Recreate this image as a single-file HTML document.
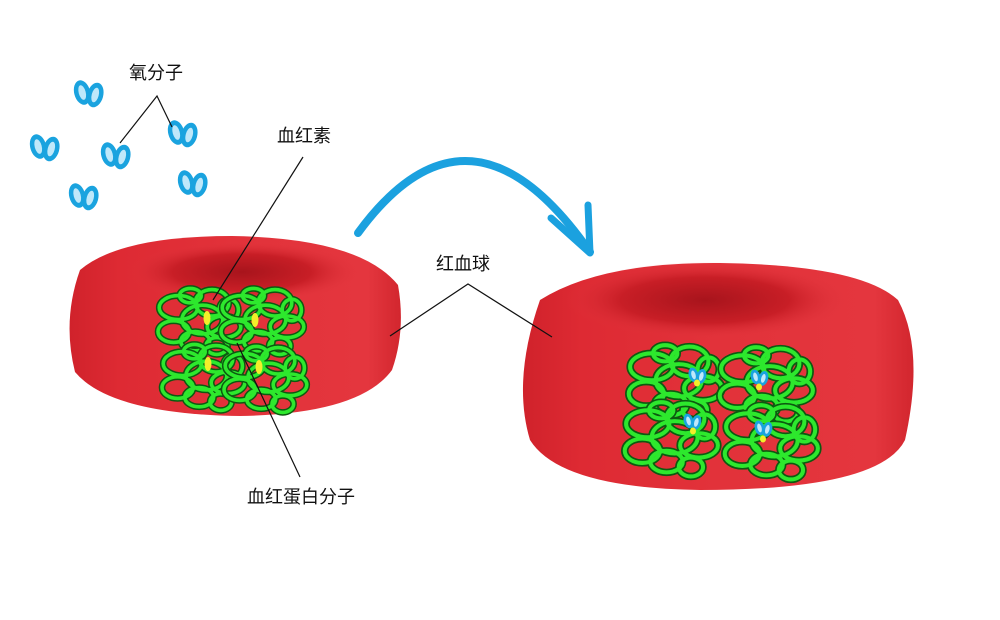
<!DOCTYPE html>
<html><head><meta charset="utf-8"><style>
html,body{margin:0;padding:0;background:#fff;}
svg{display:block;}
text{font-family:"Liberation Sans","Noto Sans CJK SC",sans-serif;font-size:18px;fill:#111;}
</style></head><body>
<svg width="1000" height="620" viewBox="0 0 1000 620" xmlns="http://www.w3.org/2000/svg">
<defs>
<radialGradient id="dip" cx="0.5" cy="0.5" r="0.5">
<stop offset="0" stop-color="#a8141c"/><stop offset="0.6" stop-color="#c81e26"/><stop offset="1" stop-color="#e0333b" stop-opacity="0"/>
</radialGradient>
<linearGradient id="side" x1="0" x2="1" y1="0" y2="0">
<stop offset="0" stop-color="#d0222b"/><stop offset="0.15" stop-color="#de2a33"/><stop offset="0.5" stop-color="#e2323a"/><stop offset="0.9" stop-color="#e4363e"/><stop offset="1" stop-color="#d2262e"/>
</linearGradient>
<g id="clus" fill="none" stroke-linecap="round">
<g stroke="#0c5a10" stroke-width="5.5">
<ellipse cx="-18" cy="-12" rx="16" ry="10"/><ellipse cx="10" cy="-16" rx="14" ry="11"/>
<ellipse cx="20" cy="4" rx="14" ry="9"/><ellipse cx="-22" cy="8" rx="13" ry="9"/>
<ellipse cx="-4" cy="16" rx="12" ry="8"/><ellipse cx="2" cy="-2" rx="17" ry="12"/>
<ellipse cx="-8" cy="-22" rx="9" ry="6"/><ellipse cx="24" cy="-10" rx="8" ry="9"/>
<ellipse cx="14" cy="20" rx="9" ry="7"/>
</g>
<g stroke="#2de82d" stroke-width="3">
<ellipse cx="-18" cy="-12" rx="16" ry="10"/><ellipse cx="10" cy="-16" rx="14" ry="11"/>
<ellipse cx="20" cy="4" rx="14" ry="9"/><ellipse cx="-22" cy="8" rx="13" ry="9"/>
<ellipse cx="-4" cy="16" rx="12" ry="8"/><ellipse cx="2" cy="-2" rx="17" ry="12"/>
<ellipse cx="-8" cy="-22" rx="9" ry="6"/><ellipse cx="24" cy="-10" rx="8" ry="9"/>
<ellipse cx="14" cy="20" rx="9" ry="7"/>
</g>
</g>
<g id="o2">
<ellipse cx="-6" cy="0" rx="8" ry="12.5" fill="#1aa3df" transform="rotate(-15)"/>
<ellipse cx="8" cy="2" rx="8" ry="12.5" fill="#1aa3df" transform="rotate(15)"/>
<ellipse cx="-6" cy="0" rx="3.5" ry="7.5" fill="#bfe8fa" transform="rotate(-15)"/>
<ellipse cx="8" cy="2" rx="3.5" ry="7.5" fill="#bfe8fa" transform="rotate(15)"/>
</g>
<g id="o2s" transform="scale(0.6)"><use href="#o2"/></g>
</defs>

<use href="#o2" x="88" y="91"/>
<use href="#o2" x="44" y="145"/>
<use href="#o2" x="115" y="153"/>
<use href="#o2" x="182" y="131"/>
<use href="#o2" x="192" y="181"/>
<use href="#o2" x="83" y="194"/>

<path d="M358 233 Q470 80 590 252" fill="none" stroke="#1ba1df" stroke-width="8" stroke-linecap="round"/>
<path d="M551 218 L590 253 L588 205" fill="none" stroke="#1ba1df" stroke-width="7" stroke-linecap="round" stroke-linejoin="round"/>

<path d="M80 270 Q120 236 232 236 Q360 238 398 285 Q406 330 392 370 Q360 414 240 416 Q110 414 75 372 Q62 320 80 270 Z" fill="url(#side)"/>
<ellipse cx="242" cy="272" rx="115" ry="30" fill="url(#dip)"/>
<g transform="translate(200,322) scale(1.2)"><use href="#clus"/></g>
<g transform="translate(263,322) scale(1.2)"><use href="#clus"/></g>
<g transform="translate(204,378) scale(1.2)"><use href="#clus"/></g>
<g transform="translate(266,380) scale(1.2)"><use href="#clus"/></g>
<ellipse cx="207" cy="318" rx="3.5" ry="7" fill="#f3ee2a"/>
<ellipse cx="255" cy="320" rx="3.5" ry="7" fill="#f3ee2a"/>
<ellipse cx="208" cy="364" rx="3.5" ry="7" fill="#f3ee2a"/>
<ellipse cx="259" cy="367" rx="3.5" ry="7" fill="#f3ee2a"/>

<path d="M540 300 Q600 262 720 263 Q860 265 898 300 Q925 350 905 440 Q880 490 700 490 Q560 488 530 440 Q512 380 540 300 Z" fill="url(#side)"/>
<ellipse cx="705" cy="300" rx="140" ry="38" fill="url(#dip)"/>
<g transform="translate(676,383) scale(1.35)"><use href="#clus"/></g>
<g transform="translate(767,385) scale(1.35)"><use href="#clus"/></g>
<g transform="translate(672,440) scale(1.35)"><use href="#clus"/></g>
<g transform="translate(772,443) scale(1.35)"><use href="#clus"/></g>
<g transform="translate(697,374)"><use href="#o2s"/></g><ellipse cx="697" cy="383" rx="3" ry="3.5" fill="#f3ee2a"/>
<g transform="translate(759,376)"><use href="#o2s"/></g><ellipse cx="759" cy="387" rx="3" ry="3.5" fill="#f3ee2a"/>
<g transform="translate(692,420)"><use href="#o2s"/></g><ellipse cx="693" cy="431" rx="3" ry="3.5" fill="#f3ee2a"/>
<g transform="translate(763,427)"><use href="#o2s"/></g><ellipse cx="763" cy="439" rx="3" ry="3.5" fill="#f3ee2a"/>

<g stroke="#111" stroke-width="1.2" fill="none">
<path d="M120 143 L157 96 L172 127"/>
<path d="M303 157 L213 300"/>
<path d="M390 336 L468 284 L552 337"/>
<path d="M237 343 L300 477"/>
</g>

<text x="129" y="79">氧分子</text>
<text x="277" y="142">血红素</text>
<text x="436" y="270">红血球</text>
<text x="247" y="503">血红蛋白分子</text>
</svg>
</body></html>
